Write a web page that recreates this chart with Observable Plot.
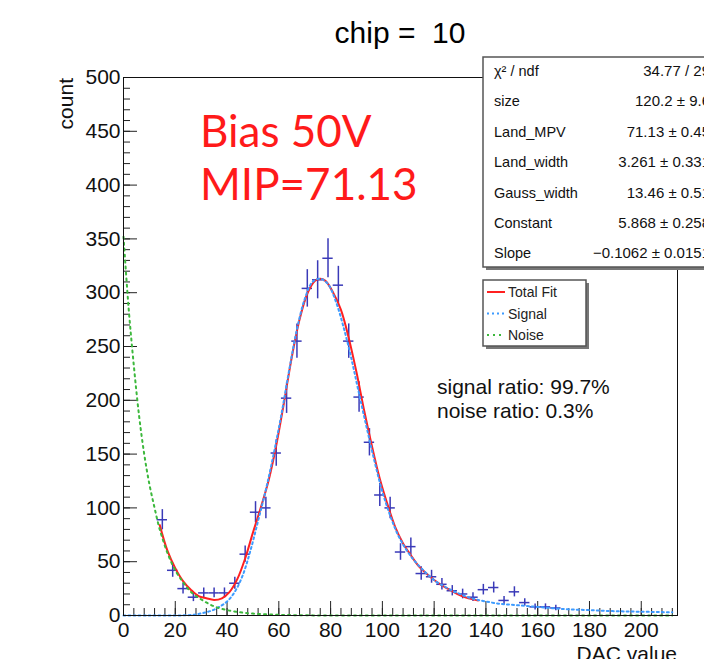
<!DOCTYPE html>
<html><head><meta charset="utf-8">
<script src="https://cdn.jsdelivr.net/npm/d3@7"></script>
<script src="https://cdn.jsdelivr.net/npm/@observablehq/plot@0.6"></script>
<style>
html,body{margin:0;padding:0;background:#fff;overflow:hidden;width:704px;height:659px;}
#chart svg{display:block;overflow:hidden;}
</style></head><body><div id="chart"></div>
<script>
// Histogram (bin centers, counts, errors)
const binCenters = [15,19,23,27,31,35,39,43,47,51,55,59,63,67,71,75,79,83,87,91,95,99,103,107,111,115,119,123,127,131,135,139,143,147,151,155,159,163,167];
const binCounts  = [89,42,25,17,21,21,21,30,57,96,100,151,202,255,304,312,332,307,255,203,161,112,100,59,64,39,36,29,23,20,17,24,26,14,22,12,8,8,7];
const binErrors  = [9.4,6.5,5,4.1,4.6,4.6,4.6,5.5,7.5,9.8,10,12.3,14.2,16,17.4,17.7,18.2,17.5,16,14.2,12.7,10.6,10,7.7,8,6.2,6,5.4,4.8,4.5,4.1,4.9,5.1,3.7,4.7,3.5,2.8,2.8,2.6];
const binHalfWidth = 2;

// Fit curves
const totalX = [14,17,20,23,26,29,32,35,38,41,44,47,50,53,56,59,62,65,68,71,74,76,78,81,84,87,90,93,96,99,102,105,108,111,114,117,120,123,126,129,132,135,137];
const totalY = [84,60,44,32,24,18,16,14.5,16,22,34,53,77,100,125,158,198,240,275,299,311,313,311,300,284,258,226,190,157,127,103,82,67,56,46,39,33,28,24,20,17,15,14];
const signalX = [0,10,20,25,28,31,34,37,40,43,46,49,52,55,58,61,64,67,70,73,76,79,82,85,88,91,94,97,100,103,106,109,112,115,118,121,124,127,130,133,136,140,145,150,155,160,170,180,190,200,212];
const signalY = [0,0,0,0.3,1,2.5,4.5,8,13,22,37,60,88,117,150,187,228,266,294,310,313,308,292,268,239,206,174,143,115,93,75,62,52,44,37,31,27,23,20,17,15,13,11,10,9,8,6,5,4,3.5,3];
const noiseX = [0,2,4,6,8,10,12,14,17,20,23,26,30,35,40,45,50,60,70,80,100,130,160,190,212];
const noiseY = [352,285,232,186,150,122,100,80,58,42,31,22,15,8.5,5,3,1.8,0.6,0.2,0,0,0,0,0,0];

// Axis ticks
const xMajorTicks = [0,20,40,60,80,100,120,140,160,180,200];
const xMinorTicks = d3.range(0, 214, 4);
const yMajorTicks = [0,50,100,150,200,250,300,350,400,450,500];
const yMinorTicks = d3.range(0, 501, 10);

// Stats box and legend
const statsLabels = ["χ² / ndf","size","Land_MPV","Land_width","Gauss_width","Constant","Slope"];
const statsValues = ["34.77 / 29","120.2 ± 9.6","71.13 ± 0.45","3.261 ± 0.331","13.46 ± 0.51","5.868 ± 0.258","−0.1062 ± 0.0151"];
const legendLabels = ["Total Fit","Signal","Noise"];

const hist = binCenters.map((x,i)=>({x, c: binCounts[i], e: binErrors[i]}));
const total = totalX.map((x,i)=>({x, y: totalY[i]}));
const signal = signalX.map((x,i)=>({x, y: signalY[i]}));
const noise = noiseX.map((x,i)=>({x, y: noiseY[i]}));

const FONT = "'Liberation Sans', Arial, Helvetica, sans-serif";
const histColor = "#3a3ab8";

const svg = Plot.plot({
  width: 704, height: 659,
  marginLeft: 123, marginRight: 27, marginTop: 77, marginBottom: 44,
  style: {fontFamily: FONT, background: "#fff", overflow: "hidden"},
  x: {domain: [0, 214]},
  y: {domain: [0, 500]},
  marks: [
    Plot.axisX(xMinorTicks, {tickSize: -7, fill: "none", label: null, stroke: "#222"}),
    Plot.axisX(xMajorTicks, {tickSize: -14, fill: "none", label: null, stroke: "#222"}),
    Plot.axisX(xMajorTicks, {tickSize: 0, tickPadding: 7, fontSize: 21, fill: "#111", label: null}),
    Plot.axisY(yMinorTicks, {tickSize: -7, fill: "none", label: null, stroke: "#222"}),
    Plot.axisY(yMajorTicks, {tickSize: -14, fill: "none", label: null, stroke: "#222"}),
    Plot.axisY(yMajorTicks, {tickSize: 0, tickPadding: 3, fontSize: 21, fill: "#111", label: null}),
    Plot.ruleX(hist, {x: "x", y1: d => d.c - d.e, y2: d => d.c + d.e, stroke: histColor, strokeWidth: 1.5}),
    Plot.ruleY(hist, {y: "c", x1: d => d.x - binHalfWidth, x2: d => d.x + binHalfWidth, stroke: histColor, strokeWidth: 1.5}),
    Plot.line(total, {x: "x", y: "y", stroke: "#ff2020", strokeWidth: 2, curve: "catmull-rom"}),
    Plot.line(signal, {x: "x", y: "y", stroke: "#3d9bff", strokeWidth: 2, strokeDasharray: "2,3", curve: "catmull-rom"}),
    Plot.line(noise, {x: "x", y: "y", stroke: "#3cb83c", strokeWidth: 2, strokeDasharray: "2,4", curve: "catmull-rom"}),
    Plot.frame({stroke: "#111", strokeWidth: 1})
  ]
});
document.getElementById("chart").appendChild(svg);

const s = d3.select(svg);
function txt(g, x, y, str, size, opts = {}) {
  return g.append("text").attr("x", x).attr("y", y)
    .attr("text-anchor", opts.anchor || "start")
    .attr("font-family", opts.font || FONT).attr("font-size", size)
    .attr("fill", opts.fill || "#111").style("white-space", "pre").text(str);
}
// Title
txt(s, 400, 43, "chip =  10", 30, {anchor: "middle", fill: "#000"});
// Axis titles
s.append("text").attr("transform", "translate(73,78) rotate(-90)").attr("text-anchor", "end")
  .attr("font-family", FONT).attr("font-size", 21).attr("fill", "#111").text("count");
txt(s, 677, 661, "DAC value", 21, {anchor: "end"});

// Annotation
const LATO = "Lato, 'Open Sans', sans-serif";
txt(s, 200, 147, "Bias 50V", 44, {font: LATO, fill: "#ff1a1a"});
txt(s, 200, 200, "MIP=71.13", 44, {font: LATO, fill: "#ff1a1a"});
txt(s, 437, 394, "signal ratio: 99.7%", 21);
txt(s, 437, 418, "noise ratio: 0.3%", 21);

// Stats box
const sb = s.append("g");
sb.append("rect").attr("x", 486).attr("y", 60).attr("width", 240).attr("height", 210).attr("fill", "#777");
sb.append("rect").attr("x", 483).attr("y", 57).attr("width", 240).attr("height", 210).attr("fill", "#fff").attr("stroke", "#555").attr("stroke-width", 1.5);
statsLabels.forEach((t, i) => {
  const y = 76 + i * 30.4;
  txt(sb, 494, y, t, 14.5);
  txt(sb, 710, y, statsValues[i], 15, {anchor: "end"});
});

// Legend
const lg = s.append("g");
lg.append("rect").attr("x", 486).attr("y", 283).attr("width", 103).attr("height", 66).attr("fill", "#777");
lg.append("rect").attr("x", 483).attr("y", 280).attr("width", 103).attr("height", 66).attr("fill", "#fff").attr("stroke", "#555").attr("stroke-width", 1.5);
const legendStyles = [
  {stroke: "#ff2020", dash: null},
  {stroke: "#3d9bff", dash: "2,3"},
  {stroke: "#3cb83c", dash: "2,4"}
];
legendLabels.forEach((t, i) => {
  const y = 292 + i * 21.5;
  lg.append("line").attr("x1", 487).attr("x2", 505).attr("y1", y).attr("y2", y)
    .attr("stroke", legendStyles[i].stroke).attr("stroke-width", 2).attr("stroke-dasharray", legendStyles[i].dash);
  txt(lg, 508, y + 5, t, 14, {fill: "#222"});
});
</script></body></html>
